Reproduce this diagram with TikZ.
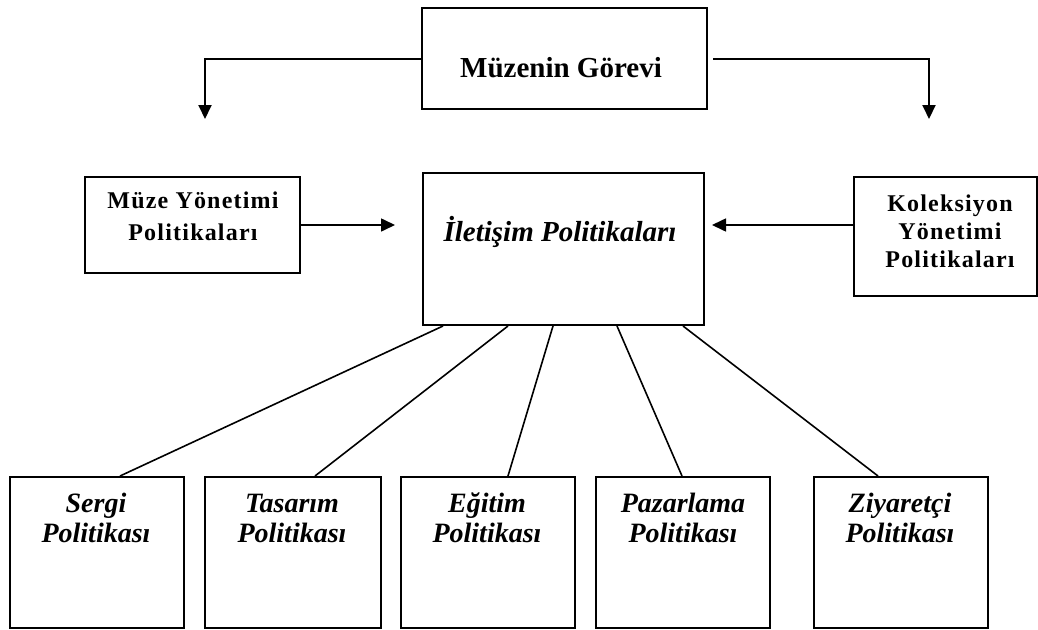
\documentclass[tikz,border=0pt]{standalone}
\usepackage{fontspec}
\setmainfont{Liberation Serif}
\newfontfamily\spacedserif[LetterSpace=5]{Liberation Serif}
\usetikzlibrary{arrows.meta}

\begin{document}
\begin{tikzpicture}[x=1pt,y=-1pt,
  box/.style={draw,line width=2pt,inner sep=0pt,anchor=north west},
  bottombox/.style={box,minimum width=174pt,minimum height=151pt},
  titletext/.style={anchor=base,inner sep=0pt,font=\fontsize{29}{34}\selectfont\bfseries},
  sidetext/.style={anchor=base,inner sep=0pt,font=\spacedserif\fontsize{24}{28}\selectfont\bfseries},
  centertext/.style={anchor=base,inner sep=0pt,font=\fontsize{29}{34}\selectfont\bfseries\itshape},
  policytext/.style={anchor=base,inner sep=0pt,font=\fontsize{28}{32}\selectfont\bfseries\itshape},
  arrowline/.style={line width=2pt,-{Triangle[length=14pt,width=13pt]}},
  sidearrow/.style={line width=1.6pt,-{Triangle[length=14pt,width=13pt]}},
  link/.style={line width=1.6pt}
]
\fill[white] (0,0) rectangle (1038,629);
\useasboundingbox (0,0) rectangle (1038,629);

% mission box on top
\node[box,minimum width=285pt,minimum height=101pt] (mission) at (421,7) {};
\node[titletext] (missiontxt) at (561,77) {Müzenin Görevi};

% side boxes
\node[box,minimum width=215pt,minimum height=96pt] (mgmt) at (84,176) {};
\node[sidetext] (mgmt1) at (193,208) {Müze Yönetimi};
\node[sidetext] (mgmt2) at (193,240) {Politikaları};

\node[box,minimum width=183pt,minimum height=119pt] (coll) at (853,176) {};
\node[sidetext] (coll1) at (950,211) {Koleksiyon};
\node[sidetext] (coll2) at (950,239) {Yönetimi};
\node[sidetext] (coll3) at (950,267) {Politikaları};

% central box
\node[box,minimum width=281pt,minimum height=152pt] (comm) at (422,172) {};
\node[centertext] (commtxt) at (560,241) {İletişim Politikaları};

% policy boxes
\node[bottombox] (sergi) at (9,476) {};
\node[bottombox,minimum width=176pt] (tasarim) at (204,476) {};
\node[bottombox] (egitim) at (400,476) {};
\node[bottombox] (pazar) at (595,476) {};
\node[bottombox] (ziyaret) at (813,476) {};

\node[policytext] at (96,512) {Sergi};
\node[policytext] at (96,542) {Politikası};
\node[policytext] at (292,512) {Tasarım};
\node[policytext] at (292,542) {Politikası};
\node[policytext] at (487,512) {Eğitim};
\node[policytext] at (487,542) {Politikası};
\node[policytext] at (683,512) {Pazarlama};
\node[policytext] at (683,542) {Politikası};
\node[policytext] at (900,512) {Ziyaretçi};
\node[policytext] at (900,542) {Politikası};

% arrow ends below the mission box
\coordinate (lefttip) at (205,119);
\coordinate (righttip) at (929,119);

\draw[arrowline] (mission.west) -| (lefttip);
\draw[arrowline] ([xshift=5pt]mission.east) -| (righttip);

\draw[sidearrow,shorten >=27pt] (mgmt.east) -- (mgmt.east -| comm.west);
\draw[sidearrow,shorten >=7pt] (coll.west |- mgmt.east) -- (mgmt.east -| comm.east);

% links to the policy boxes
\draw[link] ([xshift=21pt]comm.south west) -- ([xshift=111pt]sergi.north west);
\draw[link] ([xshift=86pt]comm.south west) -- ([xshift=111pt]tasarim.north west);
\draw[link] ([xshift=131pt]comm.south west) -- ([xshift=108pt]egitim.north west);
\draw[link] ([xshift=195pt]comm.south west) -- ([xshift=87pt]pazar.north west);
\draw[link] ([xshift=261pt]comm.south west) -- ([xshift=65pt]ziyaret.north west);
\end{tikzpicture}
\end{document}
